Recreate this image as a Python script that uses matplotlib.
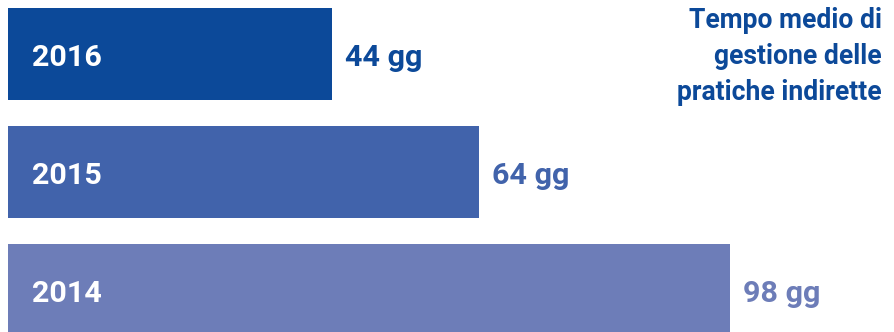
import matplotlib
matplotlib.use("Agg")
import matplotlib.pyplot as plt

years = ["2016", "2015", "2014"]
values = [44, 64, 98]
value_labels = ["44 gg", "64 gg", "98 gg"]
colors = ["#0c4999", "#4163ab", "#6d7db8"]
title = "Tempo medio di\ngestione delle\npratiche indirette"

W, H, DPI = 894, 332, 100
fig = plt.figure(figsize=(W / DPI, H / DPI), dpi=DPI)
ax = fig.add_axes([0, 0, 1, 1])

px_per_unit = 7.367
x0 = 8
ax.set_xlim(-x0 / px_per_unit, (W - x0) / px_per_unit)
pitch = 118.0
c0 = 54.0
ax.set_ylim((H - c0) / pitch, -c0 / pitch)
ax.axis("off")

pos = list(range(len(years)))
ax.barh(pos, values, height=92 / pitch, color=colors, left=0)

font = "Roboto"
pt = 72 / DPI
for i, (y, v, lab, c) in enumerate(zip(years, values, value_labels, colors)):
    ax.annotate(y, xy=(0, i), xytext=(24 * pt, -12 * pt), textcoords="offset points",
                ha="left", va="baseline", color="white", fontsize=30.5 * pt,
                fontweight="bold", family=font)
    ax.annotate(lab, xy=(v, i), xytext=(13 * pt, -12 * pt), textcoords="offset points",
                ha="left", va="baseline", color=c, fontsize=30.5 * pt,
                fontweight="bold", family=font)

fig.text(882 / W, 1 - 7 / H, title, ha="right", va="top", color="#0c4999",
         fontsize=26.5 * pt, fontweight="bold", family=font, linespacing=1.44)

fig.savefig("out.png", dpi=DPI)
